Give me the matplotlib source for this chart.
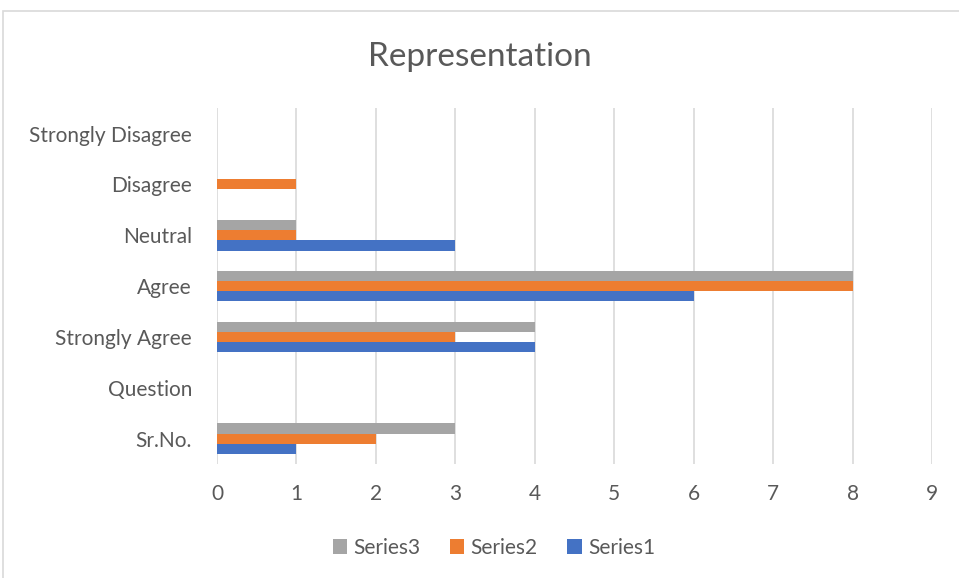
import numpy as np
import matplotlib.pyplot as plt
from matplotlib.patches import Rectangle

# Data
categories = ['Sr.No.', 'Question', 'Strongly Agree', 'Agree', 'Neutral', 'Disagree', 'Strongly Disagree']
series1 = [1, 0, 4, 6, 3, 0, 0]
series2 = [2, 0, 3, 8, 1, 1, 0]
series3 = [3, 0, 4, 8, 1, 0, 0]
xticks = list(range(0, 10))

plt.rcParams['font.family'] = ['Lato', 'DejaVu Sans']
txt = '#595959'

fig = plt.figure(figsize=(9.59, 5.78), dpi=100)
ax = fig.add_axes([0.2263, 0.197, 0.7455, 0.616])

y = np.arange(len(categories))
h = 0.2
ax.barh(y - h, series1, height=h, color='#4472C4', label='Series1', zorder=3)
ax.barh(y, series2, height=h, color='#ED7D31', label='Series2', zorder=3)
ax.barh(y + h, series3, height=h, color='#A5A5A5', label='Series3', zorder=3)

ax.set_xlim(0, 9)
ax.set_ylim(-0.5, len(categories) - 0.5)
ax.set_xticks(xticks)
ax.set_yticks(y)
ax.set_yticklabels(categories)
ax.grid(axis='x', color='#d9d9d9', linewidth=1.2, zorder=0)
for s in ax.spines.values():
    s.set_visible(False)
ax.tick_params(axis='both', length=0, labelsize=15, labelcolor=txt)
ax.tick_params(axis='y', pad=18)
ax.tick_params(axis='x', pad=14)

fig.text(0.5, 0.902, 'Representation', ha='center', va='center', fontsize=24, color=txt)

handles, labels = ax.get_legend_handles_labels()
fig.legend(handles[::-1], labels[::-1], loc='center', bbox_to_anchor=(0.515, 0.052), ncol=3,
           frameon=False, fontsize=15, labelcolor=txt, handlelength=0.7, handleheight=0.7,
           handletextpad=0.3, columnspacing=1.4)

# chart border
fig.patches.append(Rectangle((3 / 959, -0.01), 1.0, 1 - 11 / 578 + 0.01, transform=fig.transFigure,
                             fill=False, edgecolor='#d9d9d9', linewidth=1.2))

fig.savefig('out.png', dpi=100)
